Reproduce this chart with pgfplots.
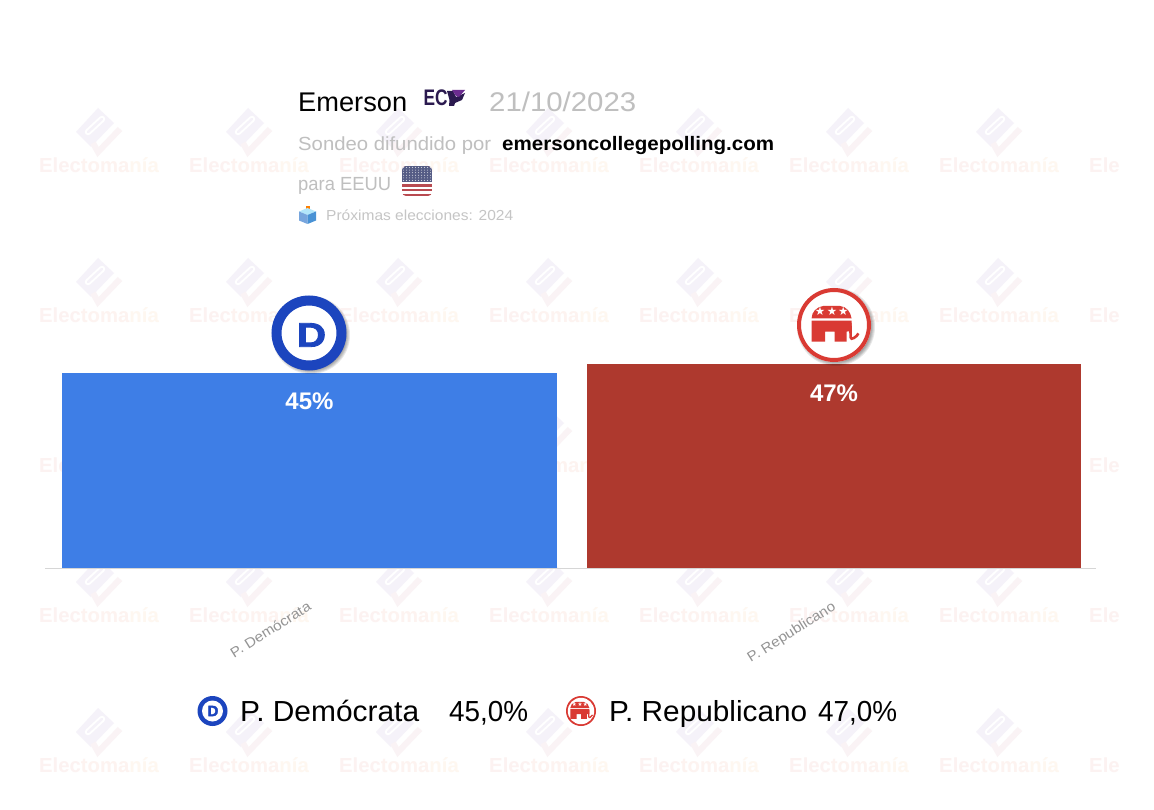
\documentclass[border=0pt]{standalone}
\usepackage{fontspec}
\setmainfont{Liberation Sans}
\usepackage{pgfplots}
\pgfplotsset{compat=1.18}
\definecolor{wmA}{HTML}{FCF2F1}
\definecolor{wmB}{HTML}{FDF3F0}
\definecolor{wmC}{HTML}{FEF7F0}
\definecolor{wmL}{HTML}{F5F2F9}
\definecolor{wmK}{HTML}{FAF3F5}
\definecolor{barD}{HTML}{3E7EE6}
\definecolor{barR}{HTML}{AE392E}
\definecolor{demB}{HTML}{1C45BE}
\definecolor{repR}{HTML}{D93A33}
\definecolor{txtG}{HTML}{BFBFBF}
\definecolor{ecp}{HTML}{2B1A4F}
\definecolor{ecpV}{HTML}{6B2C8F}
\definecolor{flagB}{HTML}{555C85}
\definecolor{flagR}{HTML}{B84A50}
\newfontfamily\heavyD[FakeBold=2.5]{Liberation Sans Bold}
\newfontfamily\djv{DejaVu Sans}
\newcommand\W[2]{\resizebox{#1pt}{\height}{#2}}
\newcommand\T[5]{\node[anchor=base west,inner sep=0pt,text=#4] at (#1pt,-#2pt) {\fontsize{#3pt}{#3pt}\selectfont #5};}
\newcommand\wm[2]{\begin{scope}[shift={(#1pt,-#2pt)},x=1pt,y=1pt]
  \fill[wmL] (-1,57) -- (-23,33) -- (-8,18) -- (15,42) -- cycle;
  \draw[white,line width=6.5pt,line cap=round] (-11,33) -- (3,46);
  \draw[wmL,line width=2.5pt,line cap=round] (-11,33) -- (3,46);
  \draw[wmK,line width=6pt] (-6,22) -- (-1,13) -- (21,36);
  \node[inner sep=0pt] at (0,0) {\fontsize{20.3pt}{20pt}\selectfont\bfseries\textcolor{wmA}{Elec}\textcolor{wmB}{toma}\textcolor{wmC}{nía}};
\end{scope}}
\newcommand\shadowdisc[3]{\foreach \k in {1,...,5}{\fill[black,opacity=.09] (#1pt+2pt,-#2pt-2pt) circle ({#3pt+3pt-\k*1pt});}}
\newcommand\eleph[3]{\begin{scope}[shift={(#1pt,-#2pt)},x=#3pt,y=#3pt]
  \fill[repR] (-1.02,.33) to[out=90,in=190] (-.45,.95) -- (.40,.95) to[out=-5,in=100] (.98,.33) -- cycle;
  \fill[repR] (-1.02,.22) -- (.98,.22) -- (.98,-.30) -- (.73,-.33) -- (.73,-.83) -- (.13,-.83) -- (.13,-.33) -- (-.35,-.33) -- (-.35,-.83) -- (-1.02,-.83) -- cycle;
  \draw[repR,line width=.13*#3pt] (.92,.1) -- (.93,-.62) to[out=-90,in=-110] (1.32,-.42);
  \pgfmathsetmacro\starsz{.58*#3}
  \foreach \sx in {-.6,0,.57}{\node[inner sep=0pt,text=white] at (\sx,.68) {\fontsize{\starsz pt}{\starsz pt}\selectfont\djv ★};}
\end{scope}}
\begin{document}
\begin{tikzpicture}[x=1pt,y=1pt]
\path[use as bounding box,fill=white] (0,0) rectangle (1154,-810);
% watermark
\begin{scope}
\clip (0,0) rectangle (1119,-810);
\foreach \yy in {165,315,465,615,765}{\foreach \xx in {99,249,399,549,699,849,999,1149}{\wm{\xx}{\yy}}}
\end{scope}
% chart
\begin{axis}[
  at={(45pt,-568pt)},anchor=south west,scale only axis,
  width=1051pt,height=260.4pt,
  xmin=-0.5043,xmax=1.4995,ymin=0,ymax=60,
  axis x line*=bottom,hide y axis,
  x axis line style={-,draw=black!16,line width=1pt},
  xtick={0,1},xticklabels={\W{92}{P. Demócrata},\W{101}{P. Republicano}},
  xtick style={draw=none},
  xticklabel style={rotate=32,anchor=north east,text=black!42,font=\fontsize{14pt}{14pt}\selectfont,xshift=-14pt,yshift=-19pt},
  ybar,bar width=494.5pt,bar shift=0pt,clip=false,
  /pgf/number format/assume math mode=true,
  nodes near coords={\pgfmathprintnumber{\pgfplotspointmeta}\%},
  nodes near coords style={anchor=north,text=white,font=\fontsize{24pt}{24pt}\selectfont\bfseries,yshift=-17pt},
]
\addplot[fill=barD,draw=none] coordinates {(0,45)};
\addplot[fill=barR,draw=none] coordinates {(1,47)};
\end{axis}
% header
\T{298}{112}{27}{black}{\W{109}{Emerson}}
\T{489}{112}{27}{txtG}{\W{147}{21/10/2023}}
\T{298}{151}{19}{txtG}{\W{193}{Sondeo difundido por}}
\T{502}{151}{19.5}{black}{\W{272}{\bfseries emersoncollegepolling.com}}
\T{298}{191}{19}{txtG}{\W{93}{para EEUU}}
\T{326}{221}{14.5}{txtG!90}{\W{187}{Próximas elecciones: 2024}}
% ECP logo
\node[anchor=base west,inner sep=0pt,text=ecp] at (423.5,-106) {\fontsize{22.5pt}{22pt}\selectfont\bfseries\W{24}{EC}};
\fill[ecp] (447,-91) -- (453,-91) -- (456,-97) -- (465,-93) -- (462,-100) -- (455,-103) -- (454,-106) -- (449,-106) -- (449.5,-100) -- cycle;
\fill[ecpV] (452,-90) -- (465,-90) -- (459,-97) -- (456,-96) -- cycle;
% flag
\begin{scope}
\clip[rounded corners=4pt] (402,-166) rectangle (432,-196);
\fill[white] (402,-166) rectangle (432,-196);
\foreach \i in {0,2,4,6,8,10,12}{\fill[flagR] (402,-166-\i*2.31) rectangle (432,-166-\i*2.31-2.31);}
\fill[flagB] (402,-166) rectangle (432,-182);
\foreach \i in {0,...,9}{\foreach \j in {0,...,5}{\fill[white!70!flagB] (403.5+\i*3,-167.5-\j*2.6) circle (.55);}}
\end{scope}
% ballot box
\fill[orange] (305.5,-206.5) rectangle (309.5,-212);
\fill[cyan!30!white] (299,-211.5) -- (307.5,-208) -- (316,-211.5) -- (307.5,-215) -- cycle;
\fill[cyan!55!blue!55!white] (299,-211.5) -- (307.5,-215) -- (307.5,-224) -- (299,-220.5) -- cycle;
\fill[cyan!60!blue!75!white] (316,-211.5) -- (307.5,-215) -- (307.5,-224) -- (316,-220.5) -- cycle;
% big logos
\shadowdisc{309}{333}{37}
\fill[white] (309,-333) circle (37);
\draw[demB,line width=10pt] (309,-333) circle (32.5);
\node[text=demB,inner sep=0pt] at (311.5,-335) {\fontsize{34pt}{34pt}\selectfont\heavyD\W{29}{D}};
\shadowdisc{834}{325}{37}
\fill[white] (834,-325) circle (37);
\draw[repR,line width=4pt] (834,-325) circle (35);
\eleph{832}{325}{20}
% legend
\fill[demB] (212.5,-711) circle (15);
\fill[white] (212.5,-711) circle (10.5);
\node[text=demB,inner sep=0pt] at (213,-711) {\fontsize{15pt}{15pt}\selectfont\heavyD D};
\T{240}{721}{29}{black}{\W{179}{P. Demócrata}}
\T{449}{721}{29}{black}{\W{79}{45,0\%}}
\fill[repR] (581,-711) circle (15);
\fill[white] (581,-711) circle (13.2);
\eleph{580}{711}{9.5}
\T{609}{721}{29}{black}{\W{198}{P. Republicano}}
\T{818}{721}{29}{black}{\W{79}{47,0\%}}
\end{tikzpicture}
\end{document}
